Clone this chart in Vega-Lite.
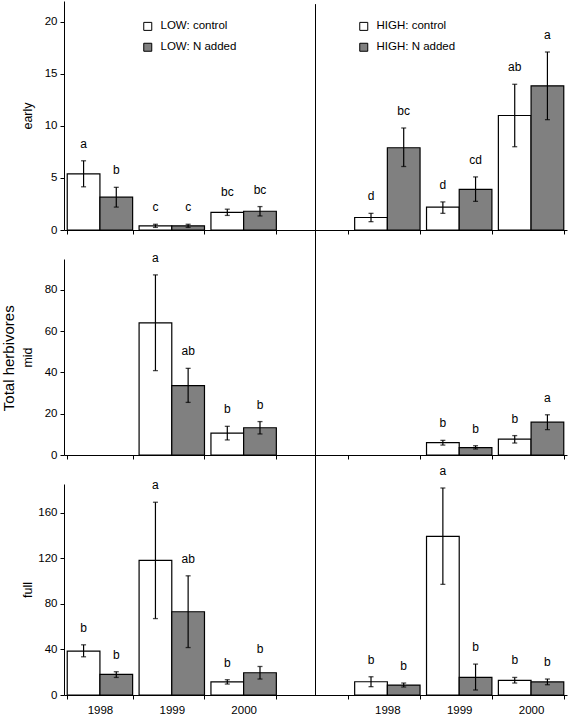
{
  "$schema": "https://vega.github.io/schema/vega-lite/v6.json",
  "padding": {"left": 1, "top": 1, "right": 2, "bottom": 0},
  "background": "white",
  "config": {
    "font": "Liberation Sans",
    "view": {"stroke": null},
    "axis": {"domainColor": "black", "tickColor": "black", "labelColor": "black", "titleColor": "black", "labelFont": "Liberation Sans", "titleFont": "Liberation Sans", "labelFontSize": 11.5, "titleFontSize": 12.5, "titleFontWeight": "normal", "tickSize": 4, "grid": false, "labelPadding": 3}
  },
  "title": {"text": "Total herbivores", "orient": "left", "anchor": "middle", "fontSize": 15, "fontWeight": "normal", "font": "Liberation Sans", "color": "black", "offset": 4},
  "bounds": "flush",
  "spacing": 29,
  "resolve": {"legend": {"fill": "independent"}},
  "datasets": {
    "bars": [
      {"panel": "early", "slot": "L1998", "treat": "control", "series": "LOW: control", "mean": 5.4, "lo": 4.15, "hi": 6.65, "letter": "a"},
      {"panel": "early", "slot": "L1998", "treat": "N added", "series": "LOW: N added", "mean": 3.15, "lo": 2.2, "hi": 4.1, "letter": "b"},
      {"panel": "early", "slot": "L1999", "treat": "control", "series": "LOW: control", "mean": 0.4, "lo": 0.25, "hi": 0.55, "letter": "c"},
      {"panel": "early", "slot": "L1999", "treat": "N added", "series": "LOW: N added", "mean": 0.4, "lo": 0.25, "hi": 0.55, "letter": "c"},
      {"panel": "early", "slot": "L2000", "treat": "control", "series": "LOW: control", "mean": 1.7, "lo": 1.4, "hi": 2.0, "letter": "bc"},
      {"panel": "early", "slot": "L2000", "treat": "N added", "series": "LOW: N added", "mean": 1.8, "lo": 1.35, "hi": 2.25, "letter": "bc"},
      {"panel": "early", "slot": "H1998", "treat": "control", "series": "HIGH: control", "mean": 1.2, "lo": 0.8, "hi": 1.6, "letter": "d"},
      {"panel": "early", "slot": "H1998", "treat": "N added", "series": "HIGH: N added", "mean": 7.9, "lo": 6.1, "hi": 9.8, "letter": "bc"},
      {"panel": "early", "slot": "H1999", "treat": "control", "series": "HIGH: control", "mean": 2.2, "lo": 1.6, "hi": 2.7, "letter": "d"},
      {"panel": "early", "slot": "H1999", "treat": "N added", "series": "HIGH: N added", "mean": 3.9, "lo": 2.75, "hi": 5.1, "letter": "cd"},
      {"panel": "early", "slot": "H2000", "treat": "control", "series": "HIGH: control", "mean": 11.0, "lo": 8.0, "hi": 14.0, "letter": "ab"},
      {"panel": "early", "slot": "H2000", "treat": "N added", "series": "HIGH: N added", "mean": 13.85, "lo": 10.6, "hi": 17.1, "letter": "a"},
      {"panel": "mid", "slot": "L1999", "treat": "control", "series": "LOW: control", "mean": 64, "lo": 40.9, "hi": 87.3, "letter": "a"},
      {"panel": "mid", "slot": "L1999", "treat": "N added", "series": "LOW: N added", "mean": 33.6, "lo": 25.5, "hi": 42, "letter": "ab"},
      {"panel": "mid", "slot": "L2000", "treat": "control", "series": "LOW: control", "mean": 10.6, "lo": 7.3, "hi": 13.9, "letter": "b"},
      {"panel": "mid", "slot": "L2000", "treat": "N added", "series": "LOW: N added", "mean": 13.2, "lo": 10.2, "hi": 16.2, "letter": "b"},
      {"panel": "mid", "slot": "H1999", "treat": "control", "series": "HIGH: control", "mean": 6.0, "lo": 4.8, "hi": 7.1, "letter": "b"},
      {"panel": "mid", "slot": "H1999", "treat": "N added", "series": "HIGH: N added", "mean": 3.6, "lo": 2.9, "hi": 4.5, "letter": "b"},
      {"panel": "mid", "slot": "H2000", "treat": "control", "series": "HIGH: control", "mean": 7.7, "lo": 5.8, "hi": 9.4, "letter": "b"},
      {"panel": "mid", "slot": "H2000", "treat": "N added", "series": "HIGH: N added", "mean": 15.9, "lo": 12.3, "hi": 19.5, "letter": "a"},
      {"panel": "full", "slot": "L1998", "treat": "control", "series": "LOW: control", "mean": 38.5, "lo": 33.5, "hi": 44, "letter": "b"},
      {"panel": "full", "slot": "L1998", "treat": "N added", "series": "LOW: N added", "mean": 18, "lo": 15.4, "hi": 20.4, "letter": "b"},
      {"panel": "full", "slot": "L1999", "treat": "control", "series": "LOW: control", "mean": 118, "lo": 67, "hi": 169, "letter": "a"},
      {"panel": "full", "slot": "L1999", "treat": "N added", "series": "LOW: N added", "mean": 73, "lo": 41.6, "hi": 104.5, "letter": "ab"},
      {"panel": "full", "slot": "L2000", "treat": "control", "series": "LOW: control", "mean": 11.5, "lo": 9.6, "hi": 13.4, "letter": "b"},
      {"panel": "full", "slot": "L2000", "treat": "N added", "series": "LOW: N added", "mean": 19.5, "lo": 14, "hi": 25, "letter": "b"},
      {"panel": "full", "slot": "H1998", "treat": "control", "series": "HIGH: control", "mean": 11.6, "lo": 7.3, "hi": 16, "letter": "b"},
      {"panel": "full", "slot": "H1998", "treat": "N added", "series": "HIGH: N added", "mean": 8.7, "lo": 7, "hi": 10.5, "letter": "b"},
      {"panel": "full", "slot": "H1999", "treat": "control", "series": "HIGH: control", "mean": 139, "lo": 97, "hi": 181.5, "letter": "a"},
      {"panel": "full", "slot": "H1999", "treat": "N added", "series": "HIGH: N added", "mean": 15.5, "lo": 4.4, "hi": 27.1, "letter": "b"},
      {"panel": "full", "slot": "H2000", "treat": "control", "series": "HIGH: control", "mean": 12.8, "lo": 10.5, "hi": 15.4, "letter": "b"},
      {"panel": "full", "slot": "H2000", "treat": "N added", "series": "HIGH: N added", "mean": 11.5, "lo": 9, "hi": 14, "letter": "b"}
    ]
  },
  "vconcat": [
    {
      "width": 503,
      "height": 229,
      "data": {"name": "bars"},
      "transform": [{"filter": "datum.panel == 'early'"}],
      "encoding": {
        "x": {"field": "slot", "type": "nominal", "title": null, "scale": {"domain": ["L1998", "L1999", "L2000", "gap", "H1998", "H1999", "H2000"], "paddingInner": 0.09, "paddingOuter": 0.045}, "axis": {"labels": false, "tickBand": "extent", "tickSize": 4}}
      },
      "layer": [
        {
          "transform": [{"aggregate": [{"op": "count", "as": "n"}]}],
          "mark": {"type": "rule", "color": "black", "strokeWidth": 1},
          "encoding": {"x": {"datum": "gap", "type": "nominal"}, "y": {"datum": 21.7, "type": "quantitative"}, "y2": {"datum": -2.9}}
        },
        {
          "mark": {"type": "bar", "stroke": "black", "strokeWidth": 1.2},
          "encoding": {
            "xOffset": {"field": "treat", "type": "nominal", "scale": {"domain": ["control", "N added"], "paddingInner": 0, "paddingOuter": 0}},
            "y": {"field": "mean", "type": "quantitative", "title": "early", "scale": {"domain": [0, 22], "nice": false}, "axis": {"values": [0, 5, 10, 15, 20], "minExtent": 26, "maxExtent": 26, "titlePadding": 4}},
            "fill": {"field": "series", "type": "nominal", "scale": {"domain": ["LOW: control", "LOW: N added", "HIGH: control", "HIGH: N added"], "range": ["#ffffff", "#808080", "#ffffff", "#808080"]}, "legend": {"orient": "none", "direction": "vertical", "legendX": 78, "legendY": 19.5, "columns": 2, "columnPadding": 120, "rowPadding": 8, "title": null, "padding": 0, "symbolType": "square", "symbolSize": 64, "symbolStrokeColor": "black", "symbolStrokeWidth": 1, "labelFontSize": 11.5, "labelFont": "Liberation Sans", "labelColor": "black", "labelOffset": 7}}
          }
        },
        {
          "mark": {"type": "rule", "color": "black", "strokeWidth": 1.2},
          "encoding": {"xOffset": {"field": "treat", "type": "nominal"}, "y": {"field": "lo", "type": "quantitative"}, "y2": {"field": "hi"}}
        },
        {
          "mark": {"type": "tick", "color": "black", "size": 5, "thickness": 1.3},
          "encoding": {"xOffset": {"field": "treat", "type": "nominal"}, "y": {"field": "lo", "type": "quantitative"}}
        },
        {
          "mark": {"type": "tick", "color": "black", "size": 5, "thickness": 1.3},
          "encoding": {"xOffset": {"field": "treat", "type": "nominal"}, "y": {"field": "hi", "type": "quantitative"}}
        },
        {
          "mark": {"type": "text", "font": "Liberation Sans", "fontSize": 12, "fill": "black", "baseline": "alphabetic", "dy": -13},
          "encoding": {"xOffset": {"field": "treat", "type": "nominal"}, "y": {"field": "hi", "type": "quantitative"}, "text": {"field": "letter"}}
        }
      ]
    },
    {
      "width": 503,
      "height": 196,
      "data": {"name": "bars"},
      "transform": [{"filter": "datum.panel == 'mid'"}],
      "encoding": {
        "x": {"field": "slot", "type": "nominal", "title": null, "scale": {"domain": ["L1998", "L1999", "L2000", "gap", "H1998", "H1999", "H2000"], "paddingInner": 0.09, "paddingOuter": 0.045}, "axis": {"labels": false, "tickBand": "extent", "tickSize": 4}}
      },
      "layer": [
        {
          "transform": [{"aggregate": [{"op": "count", "as": "n"}]}],
          "mark": {"type": "rule", "color": "black", "strokeWidth": 1},
          "encoding": {"x": {"datum": "gap", "type": "nominal"}, "y": {"datum": 95, "type": "quantitative"}, "y2": {"datum": -14.2}}
        },
        {
          "mark": {"type": "bar", "stroke": "black", "strokeWidth": 1.2},
          "encoding": {
            "xOffset": {"field": "treat", "type": "nominal", "scale": {"domain": ["control", "N added"], "paddingInner": 0, "paddingOuter": 0}},
            "y": {"field": "mean", "type": "quantitative", "title": "mid", "scale": {"domain": [0, 95], "nice": false}, "axis": {"values": [0, 20, 40, 60, 80], "minExtent": 26, "maxExtent": 26, "titlePadding": 4}},
            "fill": {"field": "series", "type": "nominal", "scale": {"domain": ["LOW: control", "LOW: N added", "HIGH: control", "HIGH: N added"], "range": ["#ffffff", "#808080", "#ffffff", "#808080"]}, "legend": null}
          }
        },
        {
          "mark": {"type": "rule", "color": "black", "strokeWidth": 1.2},
          "encoding": {"xOffset": {"field": "treat", "type": "nominal"}, "y": {"field": "lo", "type": "quantitative"}, "y2": {"field": "hi"}}
        },
        {
          "mark": {"type": "tick", "color": "black", "size": 5, "thickness": 1.3},
          "encoding": {"xOffset": {"field": "treat", "type": "nominal"}, "y": {"field": "lo", "type": "quantitative"}}
        },
        {
          "mark": {"type": "tick", "color": "black", "size": 5, "thickness": 1.3},
          "encoding": {"xOffset": {"field": "treat", "type": "nominal"}, "y": {"field": "hi", "type": "quantitative"}}
        },
        {
          "mark": {"type": "text", "font": "Liberation Sans", "fontSize": 12, "fill": "black", "baseline": "alphabetic", "dy": -13},
          "encoding": {"xOffset": {"field": "treat", "type": "nominal"}, "y": {"field": "hi", "type": "quantitative"}, "text": {"field": "letter"}}
        }
      ]
    },
    {
      "width": 503,
      "height": 211,
      "data": {"name": "bars"},
      "transform": [{"filter": "datum.panel == 'full'"}],
      "encoding": {
        "x": {"field": "slot", "type": "nominal", "title": null, "scale": {"domain": ["L1998", "L1999", "L2000", "gap", "H1998", "H1999", "H2000"], "paddingInner": 0.09, "paddingOuter": 0.045}, "axis": {"labelExpr": "isString(datum.value) && datum.value != 'gap' ? substring(datum.value, 1) : ''", "labelAngle": 0, "tickBand": "extent", "tickSize": 4, "labelPadding": 5}}
      },
      "layer": [
        {
          "transform": [{"aggregate": [{"op": "count", "as": "n"}]}],
          "mark": {"type": "rule", "color": "black", "strokeWidth": 1},
          "encoding": {"x": {"datum": "gap", "type": "nominal"}, "y": {"datum": 185, "type": "quantitative"}, "y2": {"datum": 0}}
        },
        {
          "mark": {"type": "bar", "stroke": "black", "strokeWidth": 1.2},
          "encoding": {
            "xOffset": {"field": "treat", "type": "nominal", "scale": {"domain": ["control", "N added"], "paddingInner": 0, "paddingOuter": 0}},
            "y": {"field": "mean", "type": "quantitative", "title": "full", "scale": {"domain": [0, 185], "nice": false}, "axis": {"values": [0, 40, 80, 120, 160], "minExtent": 26, "maxExtent": 26, "titlePadding": 4}},
            "fill": {"field": "series", "type": "nominal", "scale": {"domain": ["LOW: control", "LOW: N added", "HIGH: control", "HIGH: N added"], "range": ["#ffffff", "#808080", "#ffffff", "#808080"]}, "legend": null}
          }
        },
        {
          "mark": {"type": "rule", "color": "black", "strokeWidth": 1.2},
          "encoding": {"xOffset": {"field": "treat", "type": "nominal"}, "y": {"field": "lo", "type": "quantitative"}, "y2": {"field": "hi"}}
        },
        {
          "mark": {"type": "tick", "color": "black", "size": 5, "thickness": 1.3},
          "encoding": {"xOffset": {"field": "treat", "type": "nominal"}, "y": {"field": "lo", "type": "quantitative"}}
        },
        {
          "mark": {"type": "tick", "color": "black", "size": 5, "thickness": 1.3},
          "encoding": {"xOffset": {"field": "treat", "type": "nominal"}, "y": {"field": "hi", "type": "quantitative"}}
        },
        {
          "mark": {"type": "text", "font": "Liberation Sans", "fontSize": 12, "fill": "black", "baseline": "alphabetic", "dy": -13},
          "encoding": {"xOffset": {"field": "treat", "type": "nominal"}, "y": {"field": "hi", "type": "quantitative"}, "text": {"field": "letter"}}
        }
      ]
    }
  ]
}
